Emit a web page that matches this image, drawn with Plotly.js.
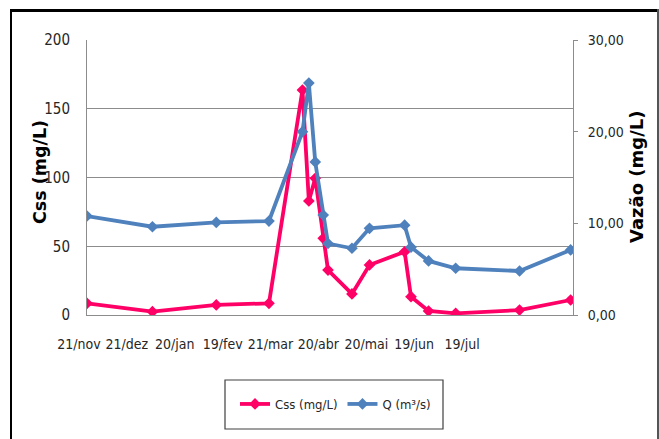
<!DOCTYPE html>
<html>
<head>
<meta charset="utf-8">
<script src="https://cdn.plot.ly/plotly-3.0.1.min.js"></script>
<style>
  html, body { margin: 0; padding: 0; background: #ffffff; }
  #chart { width: 659px; height: 439px; }
</style>
</head>
<body>
<div id="chart"></div>
<script>
// Sampling dates
const dates = [
  '2010-11-26', '2011-01-06', '2011-02-15', '2011-03-20', '2011-04-10',
  '2011-04-14', '2011-04-18', '2011-04-23', '2011-04-26', '2011-05-11',
  '2011-05-22', '2011-06-13', '2011-06-17', '2011-06-28', '2011-07-15',
  '2011-08-24', '2011-09-25'
];
// Suspended sediment concentration (mg/L)
const css = [8.5, 2.4, 7.3, 8.5, 163.6, 82.9, 99.4, 55.8, 32.7, 15.3,
             36.4, 46.0, 13.3, 2.9, 1.2, 3.6, 10.9];
// Discharge (m3/s)
const vazao = [10.8, 9.63, 10.1, 10.25, 20.0, 25.3, 16.7, 10.9, 7.8, 7.28,
               9.46, 9.8, 7.4, 5.9, 5.1, 4.8, 7.1];
// Date axis labels
const tickDates = ['2010-11-21', '2010-12-21', '2011-01-20', '2011-02-19', '2011-03-21',
                   '2011-04-20', '2011-05-20', '2011-06-19', '2011-07-19'];
const tickLabels = ['21/nov', '21/dez', '20/jan', '19/fev', '21/mar',
                    '20/abr', '20/mai', '19/jun', '19/jul'];
const seriesNames = ['Css (mg/L)', 'Q (m³/s)'];
const axisTitles = ['Css (mg/L)', 'Vazão (mg/L)'];

const W = 659, H = 439;
const M = { l: 79, r: 86, t: 40, b: 124 };
const plotW = W - M.l - M.r, plotH = H - M.t - M.b;
const px = x => (x - M.l) / plotW;          // pixel -> paper x
const py = y => (H - M.b - y) / plotH;      // pixel -> paper y

const narrow = '"Liberation Sans Narrow", "DejaVu Sans Condensed", sans-serif';
const bold = '"DejaVu Sans", Verdana, sans-serif';
const gridCol = '#8c8c8c';
const textCol = '#262626';

const traces = [
  {
    x: dates, y: css, name: seriesNames[0], type: 'scatter', mode: 'lines+markers',
    xaxis: 'x', yaxis: 'y',
    line: { color: '#FF0066', width: 3.8 },
    marker: { symbol: 'diamond', size: 9, color: '#FF0066' }
  },
  {
    x: dates, y: vazao, name: seriesNames[1], type: 'scatter', mode: 'lines+markers',
    xaxis: 'x', yaxis: 'y2',
    line: { color: '#4F81BD', width: 3.8 },
    marker: { symbol: 'diamond', size: 9, color: '#4F81BD' }
  },
  // carrier for the date-label axis (no visible marks)
  {
    x: tickDates, y: tickDates.map(() => null), type: 'scatter', mode: 'markers',
    xaxis: 'x2', yaxis: 'y3', showlegend: false, hoverinfo: 'skip',
    marker: { opacity: 0 }
  }
];

const layout = {
  width: W, height: H,
  margin: M,
  paper_bgcolor: '#ffffff',
  plot_bgcolor: 'rgba(0,0,0,0)',
  separators: ',.',
  showlegend: true,
  font: { family: narrow, size: 15, color: textCol },
  xaxis: {
    type: 'date',
    domain: [px(87), 1],
    range: ['2010-11-26', '2011-09-26 12:00'],
    anchor: 'y',
    showgrid: false, zeroline: false,
    showline: true, linecolor: gridCol, linewidth: 1,
    showticklabels: false, ticks: ''
  },
  xaxis2: {
    type: 'date',
    domain: [0, 1],
    range: ['2010-11-21', '2011-09-26 12:00'],
    anchor: 'y3',
    tickmode: 'array', tickvals: tickDates, ticktext: tickLabels,
    showgrid: false, zeroline: false, showline: false, ticks: '',
    ticklabelstandoff: 19,
    tickfont: { family: narrow, size: 14, color: textCol }
  },
  yaxis: {
    range: [0, 200], dtick: 50, tick0: 0,
    anchor: 'x',
    showgrid: true, gridcolor: gridCol, gridwidth: 1,
    zeroline: false,
    showline: true, linecolor: gridCol, linewidth: 1,
    ticks: '', ticklabelstandoff: 13,
    tickfont: { family: narrow, size: 15, color: textCol }
  },
  yaxis2: {
    range: [0, 30], dtick: 10, tick0: 0, tickformat: '.2f',
    overlaying: 'y', side: 'right', anchor: 'x',
    showgrid: false, zeroline: false,
    showline: true, linecolor: gridCol, linewidth: 1,
    ticks: 'outside', ticklen: 4, tickcolor: gridCol, ticklabelstandoff: 7,
    tickfont: { family: narrow, size: 14, color: textCol }
  },
  yaxis3: {
    domain: [0, 1], anchor: 'x2', range: [0, 1], visible: false,
    showgrid: false, zeroline: false
  },
  legend: {
    orientation: 'h',
    x: px(235), y: py(404), xanchor: 'left', yanchor: 'middle',
    bgcolor: 'rgba(0,0,0,0)', borderwidth: 0,
    font: { family: narrow, size: 13, color: textCol }
  },
  annotations: [
    { text: axisTitles[0], xref: 'paper', yref: 'paper', x: px(40), y: py(172),
      xanchor: 'center', yanchor: 'middle', textangle: -90, showarrow: false,
      font: { family: bold, size: 17.5, color: '#000000', weight: 'bold' } },
    { text: axisTitles[1], xref: 'paper', yref: 'paper', x: px(636), y: py(177),
      xanchor: 'center', yanchor: 'middle', textangle: -90, showarrow: false,
      font: { family: bold, size: 18, color: '#000000', weight: 'bold' } }
  ],
  shapes: [
    // legend frame
    { type: 'rect', xref: 'paper', yref: 'paper', x0: px(225), x1: px(443), y0: py(380), y1: py(429),
      line: { color: '#404040', width: 1.2 }, fillcolor: 'rgba(0,0,0,0)' },
    // outer chart frame
    { type: 'line', xref: 'paper', yref: 'paper', x0: px(10), x1: px(660), y0: py(10.5), y1: py(10.5),
      line: { color: '#000000', width: 3 } },
    { type: 'line', xref: 'paper', yref: 'paper', x0: px(11), x1: px(11), y0: py(9), y1: py(445),
      line: { color: '#000000', width: 2 } },
    { type: 'line', xref: 'paper', yref: 'paper', x0: px(658), x1: px(658), y0: py(9), y1: py(445),
      line: { color: '#555555', width: 2 } }
  ]
};

Plotly.newPlot('chart', traces, layout, { staticPlot: true, displayModeBar: false });
</script>
</body>
</html>
